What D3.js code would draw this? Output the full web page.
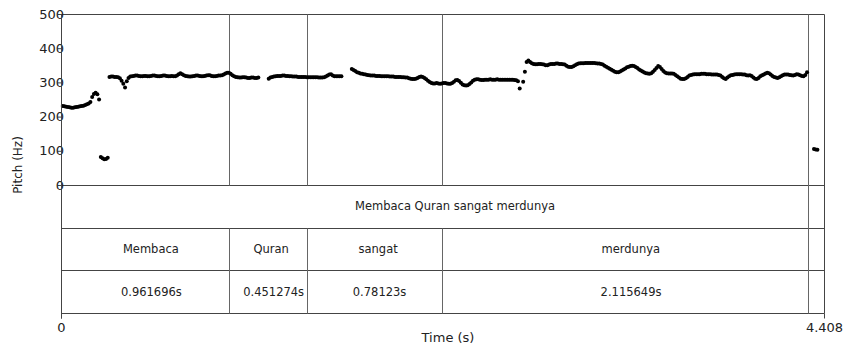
<!DOCTYPE html>
<html>
<head>
<meta charset="utf-8">
<script src="https://cdn.jsdelivr.net/npm/d3@7"></script>
<style>
  body { margin: 0; background: #fff; }
  svg text { font-family: "DejaVu Sans", "Noto Sans", sans-serif; fill: #222; }
</style>
</head>
<body>
<svg id="chart" width="851" height="351"></svg>
<script>
// Axis ranges and ticks
const timeRange = [0, 4.408];
const pitchRange = [0, 500];
const pitchTicks = [0, 100, 200, 300, 400, 500];
const timeTicks = [0, 4.408];

// Pitch track: voiced stretches, one frame every 10 ms
const pitchStep = 0.01;
const segStarts = [0.01, 0.23, 0.28, 1.20, 1.68, 2.67, 4.35];
const segHz = [
  [231,230,229,228,227,226,226,227,228,229,230,231,232,234,236,238,243,257,266,270,265,250],
  [82,78,75,76,80],
  [316,317,317,316,316,315,312,305,296,285,303,313,317,
   318,319,320,320,319,318,318,319,319,318,
   318,319,320,320,319,318,318,319,320,320,
   319,318,318,319,318,318,320,324,327,324,
   321,319,318,317,317,318,319,320,320,319,
   318,318,319,320,321,321,319,318,318,319,
   320,320,321,323,326,328,328,325,321,
   318,316,315,314,314,315,315,314,313,313,314,314,313,313,314],
  [311,314,316,317,318,319,319,319,320,320,
   319,319,318,318,317,317,317,316,316,316,
   316,316,315,315,315,315,315,315,315,314,
   314,314,315,317,320,323,324,320,318,318,
   318,318,318],
  [339,336,333,330,328,326,325,324,323,322,
   321,320,320,320,319,319,319,318,318,318,
   318,318,317,317,317,316,316,316,316,315,
   315,314,314,312,311,310,310,311,313,316,
   317,316,313,309,305,301,298,297,297,298,
   297,296,297,298,298,297,296,296,298,302,
   306,307,304,299,294,292,291,292,295,300,
   305,308,309,309,308,307,307,308,308,308,
   309,308,308,308,309,308,308,308,308,308,
   308,308,308,308,307,306,303,282],
  [302,331,360,
   364,360,356,354,353,353,354,354,353,352,
   350,350,352,354,354,354,355,355,354,354,
   353,352,349,346,345,345,347,350,353,355,
   356,356,356,357,357,357,357,357,357,356,
   355,355,354,352,349,346,343,340,337,334,
   331,330,330,332,335,338,341,344,346,348,
   349,348,345,342,338,335,332,329,327,326,
   325,327,331,336,342,348,345,339,333,329,
   327,326,326,326,325,322,318,314,311,310,
   310,312,316,320,322,323,324,324,324,324,
   325,325,325,324,324,324,323,323,323,323,
   322,320,316,312,310,314,318,321,322,323,
   324,324,324,324,323,323,321,320,321,319,
   314,311,310,313,318,321,323,326,328,327,
   323,319,316,314,313,315,318,321,323,323,
   323,322,321,320,322,324,323,321,319,318,322,330],
  [105,104,103]
];

// Annotation tiers
const utteranceStart = 0.006;
const sentence = "Membaca Quran sangat merdunya";
const words = ["Membaca", "Quran", "sangat", "merdunya"];
const wordDurations = [0.961696, 0.451274, 0.78123, 2.115649];

// Layout
const plotLeft = 61, plotRight = 824, plotTop = 14, pitchBottom = 185;
const tierH = 42.7, nTiers = 3;
const plotBottom = pitchBottom + tierH * nTiers;

const svg = d3.select("#chart");
const x = d3.scaleLinear().domain(timeRange).range([plotLeft, plotRight]);
const y = d3.scaleLinear().domain(pitchRange).range([pitchBottom, plotTop]);

const frameColor = "#444";
const boundaryColor = "#666";

// Word intervals from the durations
let tCursor = utteranceStart;
const intervals = words.map((w, i) => {
  const iv = { label: w, dur: wordDurations[i], t0: tCursor, t1: tCursor + wordDurations[i] };
  tCursor = iv.t1;
  return iv;
});
const utteranceEnd = tCursor;

const px = v => Math.round(v) + 0.5;

// Frame: top, right, horizontal tier borders
const hLines = [plotTop, pitchBottom, pitchBottom + tierH, pitchBottom + 2 * tierH, plotBottom];
svg.append("g").selectAll("line").data(hLines).join("line")
  .attr("x1", plotLeft).attr("x2", px(plotRight))
  .attr("y1", d => px(d)).attr("y2", d => px(d))
  .attr("stroke", frameColor).attr("stroke-width", 1);
svg.append("line")
  .attr("x1", px(plotRight)).attr("x2", px(plotRight))
  .attr("y1", px(plotTop)).attr("y2", px(plotBottom))
  .attr("stroke", frameColor);

// Word boundaries: through the pitch panel and the word/duration tiers
const innerBounds = intervals.slice(0, -1).map(d => d.t1);
const gB = svg.append("g");
innerBounds.forEach(b => {
  gB.append("line").attr("x1", px(x(b))).attr("x2", px(x(b)))
    .attr("y1", px(plotTop)).attr("y2", px(pitchBottom))
    .attr("stroke", boundaryColor);
  gB.append("line").attr("x1", px(x(b))).attr("x2", px(x(b)))
    .attr("y1", px(pitchBottom + tierH)).attr("y2", px(plotBottom))
    .attr("stroke", boundaryColor);
});
// Utterance end: runs through every tier
gB.append("line").attr("x1", px(x(utteranceEnd))).attr("x2", px(x(utteranceEnd)))
  .attr("y1", px(plotTop)).attr("y2", px(plotBottom))
  .attr("stroke", boundaryColor);

// Pitch points
const points = [];
segStarts.forEach((s, i) => {
  segHz[i].forEach((hz, j) => points.push({ t: s + j * pitchStep, hz }));
});
svg.append("g").selectAll("circle").data(points).join("circle")
  .attr("cx", d => x(d.t)).attr("cy", d => y(d.hz)).attr("r", 2)
  .attr("fill", "#000");

// Tier labels
function tierLabel(text, t0, t1, row) {
  const mid = (x(t0) + x(t1)) / 2;
  const cy = pitchBottom + tierH * (row + 0.5);
  const el = svg.append("text").text(text)
    .attr("font-size", 11.5).attr("y", cy).attr("dy", "0.36em")
    .attr("text-anchor", "start");
  const w = el.node().getComputedTextLength();
  el.attr("x", mid - 0.4 * w);
}
tierLabel(sentence, utteranceStart, utteranceEnd, 0);
intervals.forEach(d => {
  tierLabel(d.label, d.t0, d.t1, 1);
  tierLabel(d.dur + "s", d.t0, d.t1, 2);
});

// Pitch axis
const yAxis = svg.append("g").attr("transform", `translate(${px(plotLeft)},0)`)
  .call(d3.axisLeft(y).tickValues(pitchTicks).tickSize(4).tickSizeOuter(0));
yAxis.select(".domain").remove();
yAxis.selectAll(".tick line").attr("stroke", frameColor);
yAxis.selectAll(".tick text")
  .attr("x", 2.5).attr("font-size", 13).attr("fill", "#222")
  .attr("font-family", "DejaVu Sans, sans-serif");
svg.append("line")
  .attr("x1", px(plotLeft)).attr("x2", px(plotLeft))
  .attr("y1", px(plotTop)).attr("y2", px(plotBottom) + 5)
  .attr("stroke", frameColor);

// Time axis
const xAxis = svg.append("g").attr("transform", `translate(0,${px(plotBottom)})`)
  .call(d3.axisBottom(x).tickValues(timeTicks).tickSize(5).tickPadding(4)
    .tickFormat(d => d === 0 ? "0" : d3.format(".3f")(d)));
xAxis.select(".domain").remove();
xAxis.selectAll(".tick line").attr("stroke", frameColor);
xAxis.selectAll(".tick text").attr("font-size", 13).attr("fill", "#222")
  .attr("font-family", "DejaVu Sans, sans-serif");

// Axis titles
svg.append("text").text("Time (s)")
  .attr("x", 448).attr("y", 342).attr("text-anchor", "middle")
  .attr("font-size", 13);
svg.append("text").text("Pitch (Hz)")
  .attr("transform", "translate(22,165) rotate(-90)")
  .attr("text-anchor", "middle").attr("font-size", 12);
</script>
</body>
</html>
